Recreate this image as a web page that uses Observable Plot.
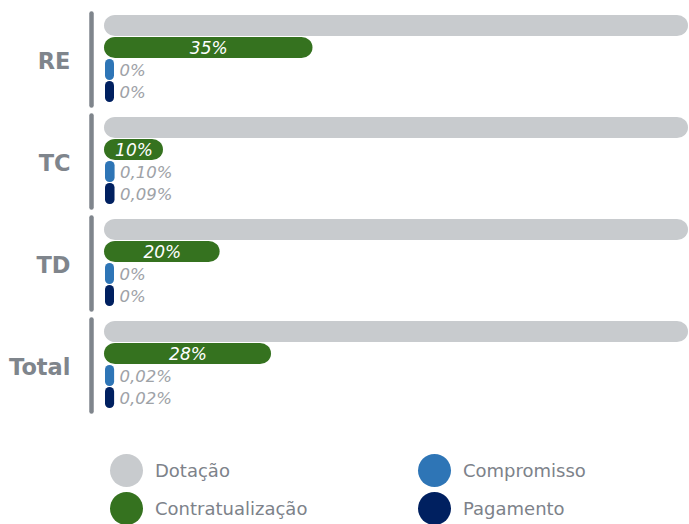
<!DOCTYPE html>
<html><head><meta charset="utf-8">
<script src="https://cdn.jsdelivr.net/npm/d3@7"></script>
<script src="https://cdn.jsdelivr.net/npm/@observablehq/plot@0.6"></script>
<style>
body{margin:0;background:#fff;font-family:"DejaVu Sans",sans-serif;}
#chart svg{display:block;}
#legend{display:grid;grid-template-columns:308px 220px;grid-auto-rows:38px;padding:0 0 0 110px;margin-top:21px;}
.item{display:flex;align-items:center;font-size:18px;color:#7d828a;}
.sw{width:33px;height:33px;border-radius:50%;margin-right:12px;flex:none;}
</style></head><body>
<div id="chart"></div><div id="legend"></div>
<script>
const categories = ["RE", "TC", "TD", "Total"];
const series = ["Dotação", "Contratualização", "Compromisso", "Pagamento"];
const colors = ["#c8cbce", "#35721f", "#2e75b6", "#002060"];
const dotacao = [100, 100, 100, 100];
const contratualizacao = [35.7, 10.1, 19.8, 28.6];
const compromisso = [0, 0.10, 0, 0.02];
const pagamento = [0, 0.09, 0, 0.02];
const contratualizacaoLabels = ["35%", "10%", "20%", "28%"];
const compromissoLabels = ["0%", "0,10%", "0%", "0,02%"];
const pagamentoLabels = ["0%", "0,09%", "0%", "0,02%"];

const rows = [];
categories.forEach((c, i) => {
  rows.push({cat: c, s: series[0], v: dotacao[i], label: ""});
  rows.push({cat: c, s: series[1], v: contratualizacao[i], label: contratualizacaoLabels[i]});
  rows.push({cat: c, s: series[2], v: compromisso[i], label: compromissoLabels[i]});
  rows.push({cat: c, s: series[3], v: pagamento[i], label: pagamentoLabels[i]});
});
const big = rows.filter(d => d.s === series[0] || d.s === series[1]);
const green = rows.filter(d => d.s === series[1]);
const small = rows.filter(d => d.s === series[2] || d.s === series[3]);

const chart = Plot.plot({
  width: 689, height: 430,
  marginLeft: 104, marginRight: 1, marginTop: 14, marginBottom: 20,
  style: {fontFamily: "DejaVu Sans, sans-serif", background: "#fff"},
  x: {domain: [0, 100], axis: null},
  y: {domain: series, axis: null, padding: 0.04},
  fy: {domain: categories, axis: null, paddingInner: 0.118, paddingOuter: 0},
  color: {domain: series, range: colors},
  marks: [
    Plot.ruleX(categories, {x: 0, fy: d => d, dx: -13, stroke: "#7f858c", strokeWidth: 4.5, strokeLinecap: "round", insetTop: -0.5, insetBottom: -1.5}),
    Plot.text(categories, {fy: d => d, text: d => d, frameAnchor: "left", dx: -34, dy: 2, textAnchor: "end", fontSize: 22.5, fontWeight: "bold", fill: "#7f858c"}),
    Plot.barX(big, {fy: "cat", y: "s", x1: 0, x2: "v", fill: "s", rx: 11}),
    Plot.barX(small, {fy: "cat", y: "s", x1: 0, x2: "v", fill: "s", rx: 4.5, ry: 4.5, insetLeft: 1, insetRight: -10}),
    Plot.text(green, {fy: "cat", y: "s", x: d => d.v / 2, dy: 1, text: "label", fill: "white", fontStyle: "italic", fontSize: 17}),
    Plot.text(small, {fy: "cat", y: "s", x: "v", text: "label", dx: 15, dy: 1, textAnchor: "start", fill: "#9ea2a7", fontStyle: "italic", fontSize: 16.5})
  ]
});
document.getElementById("chart").appendChild(chart);

const legend = document.getElementById("legend");
[0, 2, 1, 3].forEach(i => {
  const item = document.createElement("div");
  item.className = "item";
  const sw = document.createElement("span");
  sw.className = "sw";
  sw.style.background = colors[i];
  const t = document.createElement("span");
  t.textContent = series[i];
  item.appendChild(sw);
  item.appendChild(t);
  legend.appendChild(item);
});
</script>
</body></html>
